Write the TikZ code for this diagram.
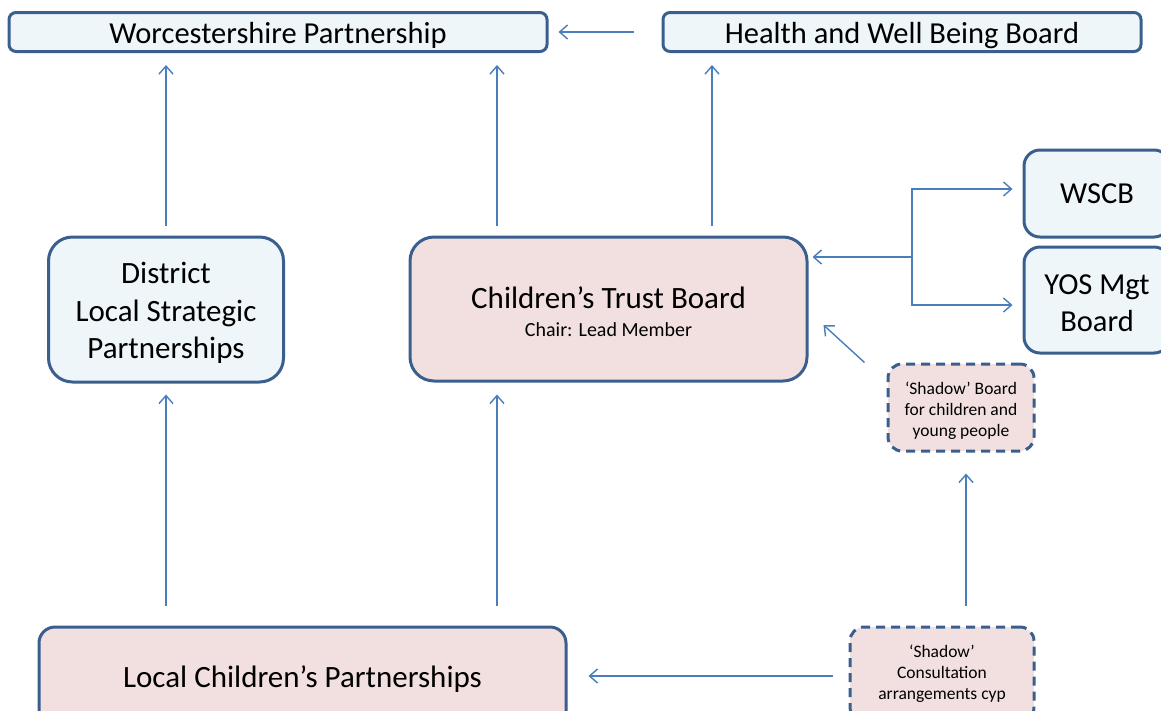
\documentclass[tikz,border=0pt]{standalone}
\usepackage{fontspec}
\setmainfont{Carlito}
\usetikzlibrary{arrows.meta,calc}
\definecolor{edgeblue}{HTML}{3A5F8E}
\definecolor{arrowblue}{HTML}{4A7EBB}
\definecolor{paleblue}{HTML}{EEF6F9}
\definecolor{palepink}{HTML}{F2E0E0}
% zero-width strut that raises the first line's top, lowering the text block
\newcommand\firststrut[1]{\rule{0pt}{#1}}
\tikzset{
  box/.style={draw=edgeblue, line width=3pt, align=center, inner sep=0pt,
    text=black, font=\fontsize{#1}{#1}\selectfont},
  bluebox/.style={box=#1, fill=paleblue},
  pinkbox/.style={box=#1, fill=palepink},
  shadowbox/.style={draw=edgeblue, line width=3pt, fill=palepink, align=center,
    inner sep=0pt, dash pattern=on 9pt off 6pt,
    font=\fontsize{17.5}{21}\selectfont},
  arr/.style={draw=arrowblue, line width=1.4pt,
    -{Straight Barb[length=8pt,width=14pt,line width=1.4pt]}},
  link/.style={draw=arrowblue, line width=1.4pt},
}
\begin{document}
\begin{tikzpicture}[x=1pt,y=-1pt]
\useasboundingbox (0,0) rectangle (1161,710);
\clip (0,0) rectangle (1161,710);

% top row
\node[bluebox=30.5, minimum width=538pt, minimum height=39pt, rounded corners=7pt]
  (WP) at (278,32) {\firststrut{27.5pt}Worcestershire Partnership};
\node[bluebox=30.5, minimum width=478pt, minimum height=39pt, rounded corners=7pt]
  (HWB) at (902,32) {\firststrut{27.5pt}Health and Well Being Board};

% middle row
\node[bluebox=31, font=\fontsize{31}{37.5}\selectfont,
  minimum width=235pt, minimum height=145pt, rounded corners=24pt]
  (DLSP) at (166,309.5) {\firststrut{28pt}District\\Local Strategic\\Partnerships};
\node[pinkbox=31, minimum width=397pt, minimum height=144pt, rounded corners=24pt]
  (CTB) at (608.5,309) {\firststrut{28pt}Children’s Trust Board\\[-3pt]{\fontsize{20}{20}\selectfont Chair: Lead Member}};

% right column
\node[bluebox=30.5, minimum width=146pt, minimum height=87pt, rounded corners=16pt]
  (WSCB) at (1097,193.5) {WSCB};
\node[bluebox=30.5, font=\fontsize{30.5}{37}\selectfont,
  minimum width=146pt, minimum height=106pt, rounded corners=16pt]
  (YOS) at (1097,300) {\firststrut{26pt}YOS Mgt\\Board};
\node[shadowbox, minimum width=146pt, minimum height=87pt, rounded corners=14pt]
  (SB) at (961,407.5) {\firststrut{18pt}‘Shadow’ Board\\for children and\\young people};

% bottom row
\node[pinkbox=31, minimum width=527pt, minimum height=104pt, rounded corners=16pt]
  (LCP) at (302.5,679) {Local Children’s Partnerships};
\node[shadowbox, minimum width=184pt, minimum height=94pt, rounded corners=14pt]
  (SC) at (942,674) {‘Shadow’\\Consultation\\arrangements cyp};

% connectors
\draw[arr, shorten <=28pt, shorten >=10pt] (HWB) -- (WP);
\draw[arr, shorten <=10pt, shorten >=12pt] (DLSP.north) -- (DLSP.north |- WP.south);
\draw[arr, shorten <=10pt, shorten >=12pt] ([xshift=-111.5pt]CTB.north) -- ([xshift=-111.5pt]CTB.north |- WP.south);
\draw[arr, shorten <=10pt, shorten >=12pt] ([xshift=103.5pt]CTB.north) -- ([xshift=103.5pt]CTB.north |- HWB.south);

\draw[arr, shorten <=20pt, shorten >=11pt] (DLSP.south |- LCP.north) -- (DLSP.south);
\draw[arr, shorten <=20pt, shorten >=12pt] ([xshift=-111.5pt]CTB.south |- LCP.north) -- ([xshift=-111.5pt]CTB.south);
\draw[arr, shorten <=20pt, shorten >=21pt] ([xshift=5pt]SB.south |- SC.north) -- ([xshift=5pt]SB.south);
\draw[arr, shorten <=16pt, shorten >=21pt] ([yshift=-2pt]SC.west) -- ([yshift=-2pt]SC.west -| LCP.east);
\draw[arr] ([xshift=-22pt]SB.north west) -- ([xshift=15pt,yshift=-16pt]CTB.east);

% fork from the two boards on the right
\coordinate (J) at (912,257);
\draw[arr, shorten >=4pt] (J) -- (J -| CTB.east);
\draw[link] (J) -- (J |- YOS.west);
\draw[arr] (J) |- ([xshift=-10pt,yshift=4.5pt]WSCB.west);
\draw[arr] (J) |- ([xshift=-10pt,yshift=-5pt]YOS.west);
\end{tikzpicture}
\end{document}
